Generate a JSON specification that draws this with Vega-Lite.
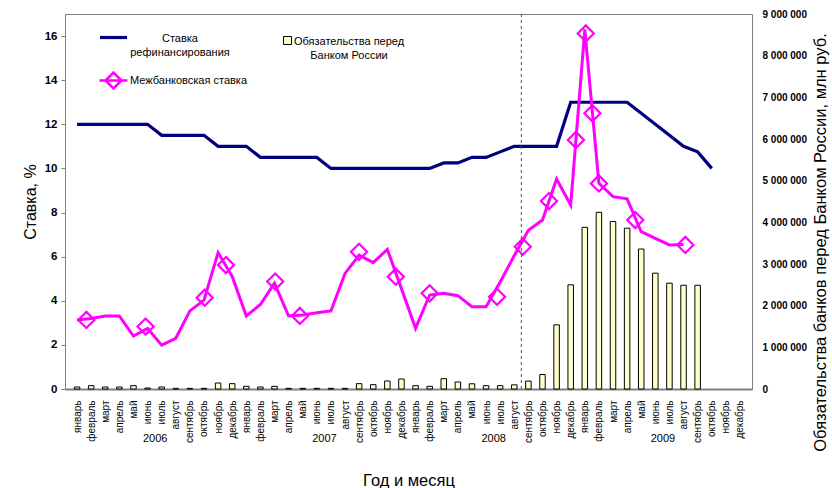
{
  "$schema": "https://vega.github.io/schema/vega-lite/v6.json",
  "width": 687,
  "height": 375,
  "autosize": "none",
  "padding": {"left": 65, "top": 14, "right": 80, "bottom": 99},
  "background": "white",
  "config": {
    "view": {"stroke": "#808080", "strokeWidth": 1},
    "font": "Liberation Sans",
    "axis": {"labelFont": "Liberation Sans", "titleFont": "Liberation Sans", "grid": false, "labelColor": "#000000", "titleColor": "#000000", "domainColor": "#808080", "tickColor": "#808080"},
    "legend": {"labelFont": "Liberation Sans", "labelColor": "#000000", "padding": 0, "labelFontSize": 11}
  },
  "datasets": {
    "monthly": [
      {"i": 0, "ref": 12, "ib": 3.13, "obl": 48000},
      {"i": 1, "ref": 12, "ib": 3.2, "obl": 80000},
      {"i": 2, "ref": 12, "ib": 3.31, "obl": 48000},
      {"i": 3, "ref": 12, "ib": 3.31, "obl": 48000},
      {"i": 4, "ref": 12, "ib": 2.4, "obl": 80000},
      {"i": 5, "ref": 12, "ib": 2.75, "obl": 24000},
      {"i": 6, "ref": 11.5, "ib": 1.99, "obl": 48000},
      {"i": 7, "ref": 11.5, "ib": 2.3, "obl": 16000},
      {"i": 8, "ref": 11.5, "ib": 3.54, "obl": 16000},
      {"i": 9, "ref": 11.5, "ib": 4.03, "obl": 16000},
      {"i": 10, "ref": 11, "ib": 6.18, "obl": 144000},
      {"i": 11, "ref": 11, "ib": 5.1, "obl": 128000},
      {"i": 12, "ref": 11, "ib": 3.31, "obl": 64000},
      {"i": 13, "ref": 10.5, "ib": 3.83, "obl": 48000},
      {"i": 14, "ref": 10.5, "ib": 4.8, "obl": 64000},
      {"i": 15, "ref": 10.5, "ib": 3.31, "obl": 16000},
      {"i": 16, "ref": 10.5, "ib": 3.35, "obl": 16000},
      {"i": 17, "ref": 10.5, "ib": 3.46, "obl": 16000},
      {"i": 18, "ref": 10, "ib": 3.54, "obl": 16000},
      {"i": 19, "ref": 10, "ib": 5.24, "obl": 16000},
      {"i": 20, "ref": 10, "ib": 6.07, "obl": 128000},
      {"i": 21, "ref": 10, "ib": 5.73, "obl": 104000},
      {"i": 22, "ref": 10, "ib": 6.33, "obl": 192000},
      {"i": 23, "ref": 10, "ib": 4.55, "obl": 240000},
      {"i": 24, "ref": 10, "ib": 2.75, "obl": 80000},
      {"i": 25, "ref": 10, "ib": 4.26, "obl": 64000},
      {"i": 26, "ref": 10.25, "ib": 4.34, "obl": 248000},
      {"i": 27, "ref": 10.25, "ib": 4.23, "obl": 168000},
      {"i": 28, "ref": 10.5, "ib": 3.73, "obl": 125000},
      {"i": 29, "ref": 10.5, "ib": 3.73, "obl": 80000},
      {"i": 30, "ref": 10.75, "ib": 4.85, "obl": 80000},
      {"i": 31, "ref": 11, "ib": 6.05, "obl": 100000},
      {"i": 32, "ref": 11, "ib": 7.2, "obl": 190000},
      {"i": 33, "ref": 11, "ib": 7.66, "obl": 348000},
      {"i": 34, "ref": 11, "ib": 9.52, "obl": 1540000},
      {"i": 35, "ref": 13, "ib": 8.34, "obl": 2500000},
      {"i": 36, "ref": 13, "ib": 16.3, "obl": 3880000},
      {"i": 37, "ref": 13, "ib": 9.32, "obl": 4240000},
      {"i": 38, "ref": 13, "ib": 8.72, "obl": 4020000},
      {"i": 39, "ref": 13, "ib": 8.62, "obl": 3860000},
      {"i": 40, "ref": 12.5, "ib": 7.13, "obl": 3360000},
      {"i": 41, "ref": 12, "ib": 6.83, "obl": 2780000},
      {"i": 42, "ref": 11.5, "ib": 6.53, "obl": 2540000},
      {"i": 43, "ref": 11, "ib": 6.55, "obl": 2490000},
      {"i": 44, "ref": 10.75, "ib": null, "obl": 2490000},
      {"i": 45, "ref": 10, "ib": null, "obl": null},
      {"i": 46, "ref": null, "ib": null, "obl": null},
      {"i": 47, "ref": null, "ib": null, "obl": null}
    ],
    "markers": [
      {"t": 0.66, "v": 3.13},
      {"t": 4.86, "v": 2.83},
      {"t": 9.05, "v": 4.14},
      {"t": 10.56, "v": 5.62},
      {"t": 14.05, "v": 4.87},
      {"t": 15.8, "v": 3.31},
      {"t": 19.99, "v": 6.22},
      {"t": 22.6, "v": 5.09},
      {"t": 25.0, "v": 4.34},
      {"t": 29.78, "v": 4.18},
      {"t": 31.6, "v": 6.45},
      {"t": 33.46, "v": 8.52},
      {"t": 35.37, "v": 11.29},
      {"t": 36.07, "v": 16.12},
      {"t": 36.54, "v": 12.5},
      {"t": 37.0, "v": 9.32},
      {"t": 39.58, "v": 7.66},
      {"t": 43.13, "v": 6.53}
    ],
    "divider": [{"x": 31.5}]
  },
  "layer": [
    {
      "data": {"name": "monthly"},
      "mark": {"type": "bar", "width": 5.5, "stroke": "#000000", "strokeWidth": 1},
      "encoding": {
        "x": {
          "field": "i", "type": "quantitative",
          "scale": {"domain": [-0.5, 47.5], "nice": false, "zero": false},
          "axis": {
            "orient": "bottom",
            "values": [0,1,2,3,4,5,6,7,8,9,10,11,12,13,14,15,16,17,18,19,20,21,22,23,24,25,26,27,28,29,30,31,32,33,34,35,36,37,38,39,40,41,42,43,44,45,46,47],
            "labelExpr": "['январь','февраль','март','апрель','май','июнь','июль','август','сентябрь','октябрь','ноябрь','декабрь'][datum.value % 12]",
            "labelAngle": 270,
            "labelFontSize": 10,
            "labelPadding": 11,
            "labelOverlap": false,
            "labelFlush": false,
            "labelBound": false,
            "ticks": false,
            "domainColor": "#808080",
            "domainWidth": 2,
            "title": null
          }
        },
        "y": {
          "field": "obl", "type": "quantitative",
          "scale": {"domain": [0, 9000000], "nice": false},
          "axis": {
            "orient": "right",
            "values": [0, 1000000, 2000000, 3000000, 4000000, 5000000, 6000000, 7000000, 8000000, 9000000],
            "labelExpr": "replace(replace(format(datum.value, ','), ',', ' '), ',', ' ')",
            "labelFontSize": 10,
            "labelFontWeight": "bold",
            "labelPadding": 10,
            "labelFlush": false,
            "ticks": false,
            "domain": false,
            "title": "Обязательства банков перед Банком России, млн руб.",
            "titleFontSize": 16.5,
            "titleFontWeight": "normal",
            "titleAngle": 270,
            "titleAlign": "center",
            "titleBaseline": "middle",
            "titleX": 68,
            "titleY": 228
          }
        },
        "fill": {
          "datum": "Обязательства перед Банком России",
          "scale": {"range": ["#FFFFCC"]},
          "legend": {
            "orient": "none",
            "legendX": 217,
            "legendY": 21,
            "title": null,
            "symbolType": "square",
            "symbolSize": 64,
            "symbolStrokeColor": "#000000",
            "symbolStrokeWidth": 1,
            "labelExpr": "['Обязательства перед', 'Банком России']",
            "labelAlign": "center",
            "labelOffset": 56,
            "labelBaseline": "alphabetic",
            "encode": {"labels": {"update": {"dy": {"value": 4}, "lineHeight": {"value": 14}}}}
          }
        }
      }
    },
    {
      "data": {"name": "monthly"},
      "mark": {"type": "line", "strokeWidth": 3.2},
      "encoding": {
        "x": {"field": "i", "type": "quantitative", "scale": {"domain": [-0.5, 47.5], "nice": false, "zero": false}, "axis": null},
        "y": {
          "field": "ref", "type": "quantitative",
          "scale": {"domain": [0, 17], "nice": false},
          "axis": {
            "orient": "left",
            "values": [0, 2, 4, 6, 8, 10, 12, 14, 16],
            "labelFontSize": 11.5,
            "labelFontWeight": "bold",
            "labelPadding": 4,
            "tickSize": 4,
            "labelFlush": false,
            "title": "Ставка, %",
            "titleFontSize": 16,
            "titleFontWeight": "normal",
            "titlePadding": 6
          }
        },
        "stroke": {
          "datum": "Ставка рефинансирования",
          "scale": {"range": ["#000080"]},
          "legend": {
            "orient": "none",
            "legendX": 33,
            "legendY": 8,
            "title": null,
            "symbolType": "stroke",
            "symbolSize": 729,
            "symbolStrokeWidth": 3.2,
            "labelExpr": "['Ставка', 'рефинансирования']",
            "labelAlign": "center",
            "labelOffset": 51,
            "labelBaseline": "alphabetic",
            "encode": {"labels": {"update": {"dy": {"value": 4}, "lineHeight": {"value": 14}}}}
          }
        }
      }
    },
    {
      "data": {"name": "monthly"},
      "mark": {"type": "line", "strokeWidth": 3},
      "encoding": {
        "x": {"field": "i", "type": "quantitative", "scale": {"domain": [-0.5, 47.5], "nice": false, "zero": false}, "axis": null},
        "y": {"field": "ib", "type": "quantitative", "scale": {"domain": [0, 17], "nice": false}, "axis": null},
        "stroke": {
          "datum": "Межбанковская ставка",
          "scale": {"range": ["#FF00FF"]},
          "legend": {
            "orient": "none",
            "legendX": 33,
            "legendY": 51,
            "title": null,
            "symbolType": "M-1,0L1,0M-0.57,0L0,-0.57L0.57,0L0,0.57Z",
            "symbolSize": 784,
            "symbolStrokeWidth": 2.5,
            "symbolFillColor": "transparent",
            "labelOffset": 1,
            "labelBaseline": "middle"
          }
        }
      }
    },
    {
      "data": {"name": "markers"},
      "mark": {"type": "point", "shape": "diamond", "size": 260, "filled": false, "color": "#FF00FF", "strokeWidth": 2.2, "opacity": 1},
      "encoding": {
        "x": {"field": "t", "type": "quantitative", "scale": {"domain": [-0.5, 47.5], "nice": false, "zero": false}, "axis": null},
        "y": {"field": "v", "type": "quantitative", "scale": {"domain": [0, 17], "nice": false}, "axis": null}
      }
    },
    {
      "data": {"name": "divider"},
      "mark": {"type": "rule", "strokeDash": [3, 3], "color": "#555555", "strokeWidth": 1},
      "encoding": {
        "x": {
          "field": "x", "type": "quantitative",
          "scale": {"domain": [-0.5, 47.5], "nice": false, "zero": false},
          "axis": {
            "orient": "bottom",
            "values": [5.5, 17.5, 29.5, 41.5],
            "labelExpr": "toString(2006 + floor(datum.value / 12))",
            "labelFontSize": 11,
            "labelPadding": 2,
            "labelFlush": false,
            "ticks": false,
            "domain": false,
            "offset": 41,
            "title": "Год и месяц",
            "titleFontSize": 16.5,
            "titleFontWeight": "normal",
            "titlePadding": 29
          }
        }
      }
    }
  ],
  "resolve": {
    "scale": {"y": "independent", "stroke": "independent"},
    "axis": {"x": "independent", "y": "independent"}
  }
}
